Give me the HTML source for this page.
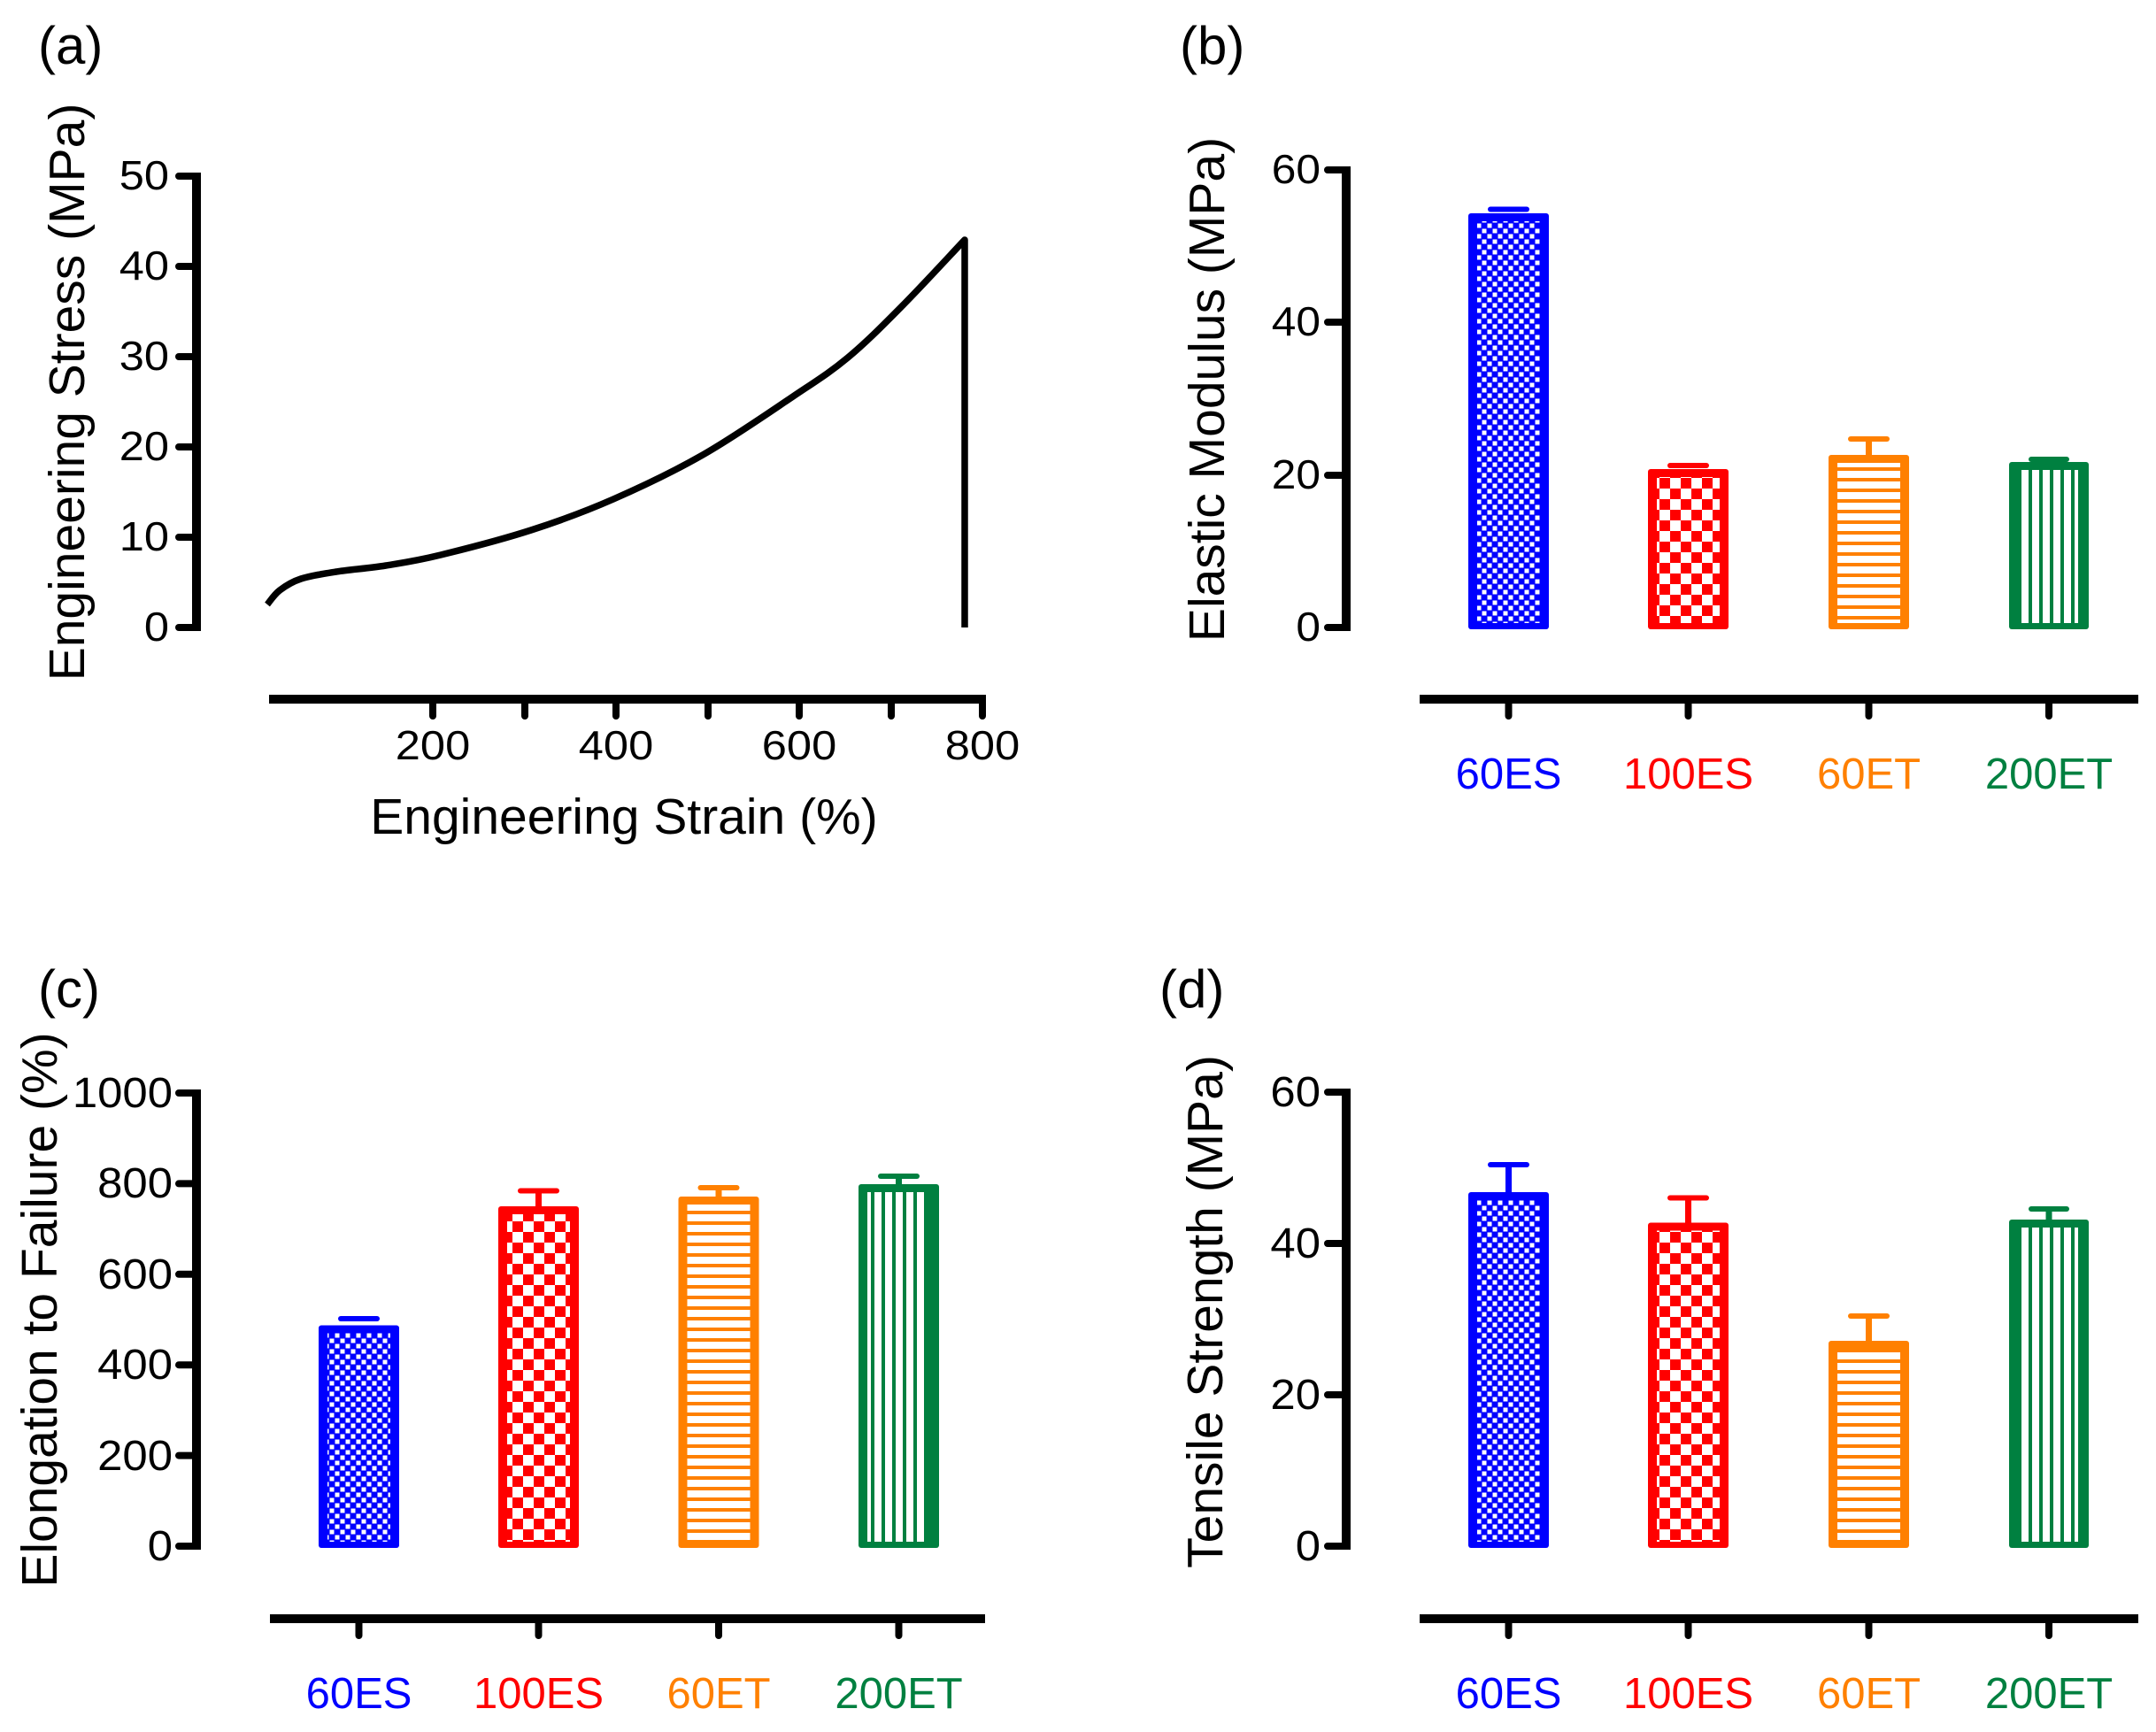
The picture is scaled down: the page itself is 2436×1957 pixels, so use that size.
<!DOCTYPE html>
<html><head><meta charset="utf-8"><style>
html,body{margin:0;padding:0;background:#fff;}
svg{display:block;}
text{font-family:"Liberation Sans",Arial,sans-serif;}
</style></head><body>
<svg width="2436" height="1957" viewBox="0 0 2436 1957" xmlns="http://www.w3.org/2000/svg">
<defs>
<pattern id="pb" patternUnits="userSpaceOnUse" x="0" y="0" width="12" height="12">
<rect width="12" height="12" fill="#0000ff"/><rect x="0.5" y="0.5" width="5" height="5" fill="#fff"/><rect x="6.5" y="6.5" width="5" height="5" fill="#fff"/></pattern>
<pattern id="pr" patternUnits="userSpaceOnUse" x="3" y="0" width="24" height="24">
<rect width="24" height="24" fill="#ff0000"/><rect x="0" y="0" width="12" height="12" fill="#fff"/><rect x="12" y="12" width="12" height="12" fill="#fff"/></pattern>
<pattern id="po" patternUnits="userSpaceOnUse" x="0" y="0" width="12" height="12">
<rect width="12" height="12" fill="#fff"/><rect x="0" y="0" width="12" height="4" fill="#ff8000"/></pattern>
<pattern id="pg" patternUnits="userSpaceOnUse" x="0" y="0" width="12" height="12">
<rect width="12" height="12" fill="#fff"/><rect x="0" y="0" width="4" height="12" fill="#008040"/></pattern>
</defs>
<rect width="2436" height="1957" fill="#fff"/>

<!-- ===== Panel (a) ===== -->
<text x="43" y="72" font-size="60">(a)</text>
<text transform="translate(95,443) rotate(-90)" text-anchor="middle" font-size="57">Engineering Stress (MPa)</text>
<g stroke="#000" fill="none">
<line x1="222" y1="195" x2="222" y2="713" stroke-width="10"/>
<g stroke-width="8" stroke-linecap="round">
<line x1="202" y1="199" x2="222" y2="199"/>
<line x1="202" y1="301" x2="222" y2="301"/>
<line x1="202" y1="403" x2="222" y2="403"/>
<line x1="202" y1="505" x2="222" y2="505"/>
<line x1="202" y1="607" x2="222" y2="607"/>
<line x1="202" y1="709" x2="222" y2="709"/>
</g>
<line x1="304" y1="790" x2="1114" y2="790" stroke-width="10"/>
<g stroke-width="8" stroke-linecap="round">
<line x1="489" y1="790" x2="489" y2="809"/>
<line x1="593" y1="790" x2="593" y2="809"/>
<line x1="696" y1="790" x2="696" y2="809"/>
<line x1="800" y1="790" x2="800" y2="809"/>
<line x1="903" y1="790" x2="903" y2="809"/>
<line x1="1007" y1="790" x2="1007" y2="809"/>
<line x1="1110" y1="790" x2="1110" y2="809"/>
</g>
<path stroke-width="7.5" stroke-linejoin="round" d="M302,683 C304.3,680.3 309.7,671.8 316,667 C322.3,662.2 329.3,657.5 340,654 C350.7,650.5 364,648.5 380,646 C396,643.5 416.3,642.2 436,639 C455.7,635.8 470.7,633.7 498,627 C525.3,620.3 567.5,609.5 600,599 C632.5,588.5 660.7,578.2 693,564 C725.3,549.8 760.2,533.3 794,514 C827.8,494.7 868.7,466.3 896,448 C923.3,429.7 937.3,421.2 958,404 C978.7,386.8 998,367.2 1020,345 C1042,322.8 1078.3,283.3 1090,271 L1090,709"/>
</g>
<g font-size="46" text-anchor="end">
<text transform="translate(191,214) scale(1.1,1)">50</text>
<text transform="translate(191,316) scale(1.1,1)">40</text>
<text transform="translate(191,418) scale(1.1,1)">30</text>
<text transform="translate(191,520) scale(1.1,1)">20</text>
<text transform="translate(191,622) scale(1.1,1)">10</text>
<text transform="translate(191,724) scale(1.1,1)">0</text>
</g>
<g font-size="46" text-anchor="middle">
<text transform="translate(489,858) scale(1.1,1)">200</text>
<text transform="translate(696,858) scale(1.1,1)">400</text>
<text transform="translate(903,858) scale(1.1,1)">600</text>
<text transform="translate(1110,858) scale(1.1,1)">800</text>
</g>
<text x="705" y="942" font-size="57" text-anchor="middle">Engineering Strain (%)</text>

<!-- ===== Panel (b) ===== -->
<text x="1333" y="72" font-size="60">(b)</text>
<text transform="translate(1383,440) rotate(-90)" text-anchor="middle" font-size="57">Elastic Modulus (MPa)</text>
<g stroke="#000" fill="none">
<line x1="1521" y1="188" x2="1521" y2="713" stroke-width="10"/>
<g stroke-width="8" stroke-linecap="round">
<line x1="1500" y1="192" x2="1521" y2="192"/>
<line x1="1500" y1="364" x2="1521" y2="364"/>
<line x1="1500" y1="537" x2="1521" y2="537"/>
<line x1="1500" y1="709" x2="1521" y2="709"/>
</g>
<line x1="1604" y1="790" x2="2416" y2="790" stroke-width="10"/>
<g stroke-width="8" stroke-linecap="round">
<line x1="1704.5" y1="790" x2="1704.5" y2="809"/>
<line x1="1907.5" y1="790" x2="1907.5" y2="809"/>
<line x1="2111.5" y1="790" x2="2111.5" y2="809"/>
<line x1="2315" y1="790" x2="2315" y2="809"/>
</g>
</g>
<g font-size="46" text-anchor="end">
<text transform="translate(1492,207) scale(1.08,1)">60</text>
<text transform="translate(1492,379) scale(1.08,1)">40</text>
<text transform="translate(1492,552) scale(1.08,1)">20</text>
<text transform="translate(1492,724) scale(1.08,1)">0</text>
</g>
<g>
<rect x="1681" y="233.5" width="47" height="6" rx="3" fill="#0000ff"/>
<rect x="1659" y="241" width="91" height="470" rx="3" fill="#0000ff"/>
<rect x="1669" y="250" width="71" height="454" fill="url(#pb)"/>

<rect x="1884" y="523" width="47" height="6" rx="3" fill="#ff0000"/>
<rect x="1862" y="530" width="91" height="181" rx="3" fill="#ff0000"/>
<rect x="1872" y="539" width="71" height="165" fill="url(#pr)"/>

<rect x="2088" y="493" width="47" height="6" rx="3" fill="#ff8000"/>
<rect x="2108" y="496" width="7" height="20" fill="#ff8000"/>
<rect x="2066" y="514" width="91" height="197" rx="3" fill="#ff8000"/>
<rect x="2076" y="523" width="71" height="181" fill="url(#po)"/>

<rect x="2292" y="516" width="46" height="6" rx="3" fill="#008040"/>
<rect x="2270" y="522" width="90" height="189" rx="3" fill="#008040"/>
<rect x="2280" y="531" width="68" height="173" fill="url(#pg)"/>
</g>
<g font-size="49" text-anchor="middle">
<text x="1704.5" y="891" fill="#0000ff">60ES</text>
<text x="1907.5" y="891" fill="#ff0000">100ES</text>
<text x="2111.5" y="891" fill="#ff8000">60ET</text>
<text x="2315" y="891" fill="#008040">200ET</text>
</g>

<!-- ===== Panel (c) ===== -->
<text x="43" y="1138" font-size="60">(c)</text>
<text transform="translate(64,1480) rotate(-90)" text-anchor="middle" font-size="57">Elongation to Failure (%)</text>
<g stroke="#000" fill="none">
<line x1="222" y1="1231" x2="222" y2="1751" stroke-width="10"/>
<g stroke-width="8" stroke-linecap="round">
<line x1="202" y1="1235" x2="222" y2="1235"/>
<line x1="202" y1="1337.4" x2="222" y2="1337.4"/>
<line x1="202" y1="1439.8" x2="222" y2="1439.8"/>
<line x1="202" y1="1542.2" x2="222" y2="1542.2"/>
<line x1="202" y1="1644.6" x2="222" y2="1644.6"/>
<line x1="202" y1="1747" x2="222" y2="1747"/>
</g>
<line x1="305" y1="1829" x2="1113" y2="1829" stroke-width="10"/>
<g stroke-width="8" stroke-linecap="round">
<line x1="405.5" y1="1829" x2="405.5" y2="1848"/>
<line x1="608.5" y1="1829" x2="608.5" y2="1848"/>
<line x1="812" y1="1829" x2="812" y2="1848"/>
<line x1="1015.5" y1="1829" x2="1015.5" y2="1848"/>
</g>
</g>
<g font-size="48" text-anchor="end">
<text transform="translate(195,1251) scale(1.06,1)">1000</text>
<text transform="translate(195,1353) scale(1.06,1)">800</text>
<text transform="translate(195,1456) scale(1.06,1)">600</text>
<text transform="translate(195,1558) scale(1.06,1)">400</text>
<text transform="translate(195,1661) scale(1.06,1)">200</text>
<text transform="translate(195,1763) scale(1.06,1)">0</text>
</g>
<g>
<rect x="382" y="1487" width="47" height="6" rx="3" fill="#0000ff"/>
<rect x="360" y="1497.5" width="91" height="251.5" rx="3" fill="#0000ff"/>
<rect x="370" y="1506.5" width="71" height="235.5" fill="url(#pb)"/>

<rect x="585" y="1342.5" width="47" height="6" rx="3" fill="#ff0000"/>
<rect x="605" y="1345" width="7" height="20" fill="#ff0000"/>
<rect x="563" y="1363" width="91" height="386" rx="3" fill="#ff0000"/>
<rect x="573" y="1372" width="71" height="370" fill="url(#pr)"/>

<rect x="788.5" y="1339" width="47" height="6" rx="3" fill="#ff8000"/>
<rect x="808.5" y="1342" width="7" height="12" fill="#ff8000"/>
<rect x="766.5" y="1352" width="91" height="397" rx="3" fill="#ff8000"/>
<rect x="776.5" y="1361" width="71" height="381" fill="url(#po)"/>

<rect x="992" y="1326" width="47" height="6" rx="3" fill="#008040"/>
<rect x="1012" y="1329" width="7" height="10" fill="#008040"/>
<rect x="970" y="1338" width="91" height="411" rx="3" fill="#008040"/>
<rect x="980" y="1347" width="68" height="395" fill="url(#pg)"/>
</g>
<g font-size="49" text-anchor="middle">
<text x="405.5" y="1930" fill="#0000ff">60ES</text>
<text x="608.5" y="1930" fill="#ff0000">100ES</text>
<text x="812" y="1930" fill="#ff8000">60ET</text>
<text x="1015.5" y="1930" fill="#008040">200ET</text>
</g>

<!-- ===== Panel (d) ===== -->
<text x="1310" y="1138" font-size="60">(d)</text>
<text transform="translate(1381,1482) rotate(-90)" text-anchor="middle" font-size="57">Tensile Strength (MPa)</text>
<g stroke="#000" fill="none">
<line x1="1521" y1="1230" x2="1521" y2="1751" stroke-width="10"/>
<g stroke-width="8" stroke-linecap="round">
<line x1="1500" y1="1234" x2="1521" y2="1234"/>
<line x1="1500" y1="1405" x2="1521" y2="1405"/>
<line x1="1500" y1="1576" x2="1521" y2="1576"/>
<line x1="1500" y1="1747" x2="1521" y2="1747"/>
</g>
<line x1="1604" y1="1829" x2="2416" y2="1829" stroke-width="10"/>
<g stroke-width="8" stroke-linecap="round">
<line x1="1704.5" y1="1829" x2="1704.5" y2="1848"/>
<line x1="1907.5" y1="1829" x2="1907.5" y2="1848"/>
<line x1="2111.5" y1="1829" x2="2111.5" y2="1848"/>
<line x1="2315" y1="1829" x2="2315" y2="1848"/>
</g>
</g>
<g font-size="48" text-anchor="end">
<text transform="translate(1492,1250) scale(1.06,1)">60</text>
<text transform="translate(1492,1421) scale(1.06,1)">40</text>
<text transform="translate(1492,1592) scale(1.06,1)">20</text>
<text transform="translate(1492,1763) scale(1.06,1)">0</text>
</g>
<g>
<rect x="1681" y="1313" width="47" height="6" rx="3" fill="#0000ff"/>
<rect x="1701" y="1316" width="7" height="33" fill="#0000ff"/>
<rect x="1659" y="1347" width="91" height="402" rx="3" fill="#0000ff"/>
<rect x="1669" y="1356" width="71" height="386" fill="url(#pb)"/>

<rect x="1884" y="1350.5" width="47" height="6" rx="3" fill="#ff0000"/>
<rect x="1904" y="1353.5" width="7" height="30" fill="#ff0000"/>
<rect x="1862" y="1381.5" width="91" height="367.5" rx="3" fill="#ff0000"/>
<rect x="1872" y="1390.5" width="71" height="351.5" fill="url(#pr)"/>

<rect x="2088" y="1484" width="47" height="6" rx="3" fill="#ff8000"/>
<rect x="2108" y="1487" width="7" height="30" fill="#ff8000"/>
<rect x="2066" y="1515" width="91" height="234" rx="3" fill="#ff8000"/>
<rect x="2076" y="1524" width="71" height="218" fill="url(#po)"/>

<rect x="2292" y="1363" width="46" height="6" rx="3" fill="#008040"/>
<rect x="2311.5" y="1366" width="7" height="14" fill="#008040"/>
<rect x="2270" y="1378" width="90" height="371" rx="3" fill="#008040"/>
<rect x="2280" y="1387" width="68" height="355" fill="url(#pg)"/>
</g>
<g font-size="49" text-anchor="middle">
<text x="1704.5" y="1930" fill="#0000ff">60ES</text>
<text x="1907.5" y="1930" fill="#ff0000">100ES</text>
<text x="2111.5" y="1930" fill="#ff8000">60ET</text>
<text x="2315" y="1930" fill="#008040">200ET</text>
</g>
</svg>
</body></html>
